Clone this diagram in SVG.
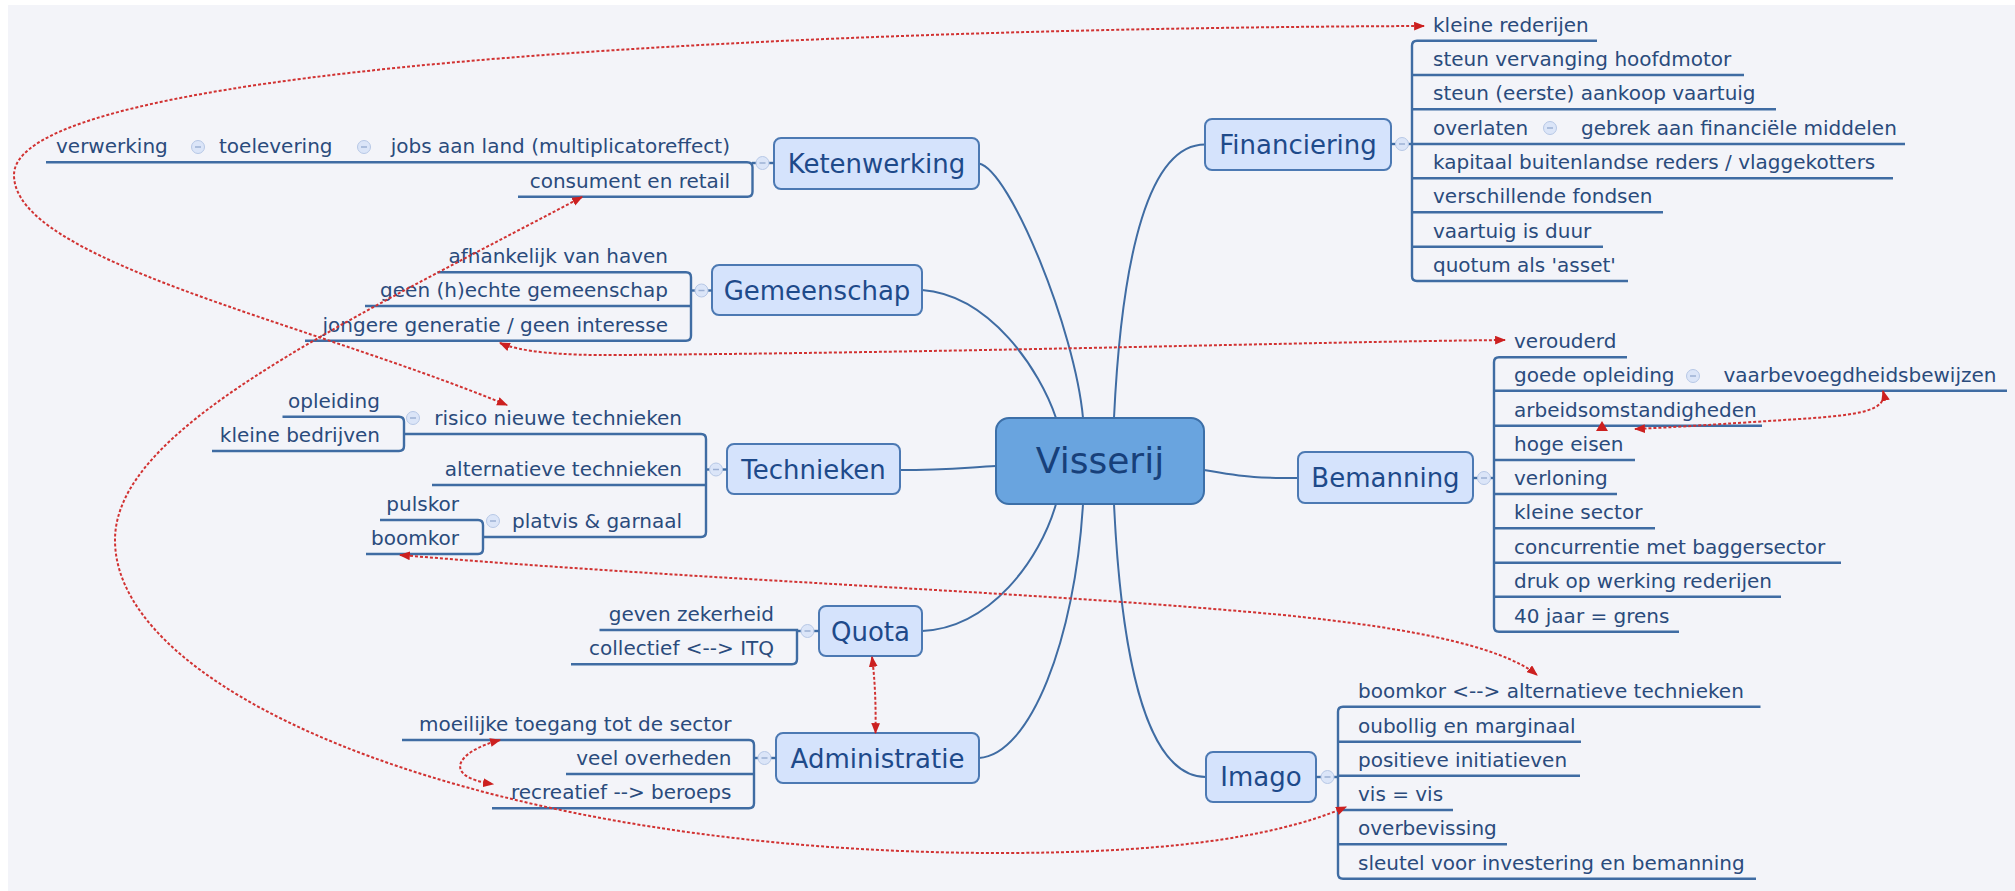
<svg xmlns="http://www.w3.org/2000/svg" width="2015" height="891" viewBox="0 0 2015 891">
<defs>
<style>
.bg{fill:#f3f4f9}
.t{font-family:"DejaVu Sans",Verdana,sans-serif;font-size:20px;fill:#2a4b7c}
.te{font-family:"DejaVu Sans",Verdana,sans-serif;font-size:20px;fill:#2a4b7c;text-anchor:end}
.nt{font-family:"DejaVu Sans",Verdana,sans-serif;font-size:26px;fill:#1e4a8a;text-anchor:middle}
.ct{font-family:"DejaVu Sans",Verdana,sans-serif;font-size:36px;fill:#17407a;text-anchor:middle}
.box{fill:#d5e3fc;stroke:#4c79b3;stroke-width:2}
.cbox{fill:#69a4df;stroke:#3c6fa8;stroke-width:2}
.ln{fill:none;stroke:#3f6ca3;stroke-width:2;stroke-linecap:round}
.br{fill:none;stroke:#3f6ca3;stroke-width:2.4}
.cc{fill:#dbe5f8;stroke:#b7c8e6;stroke-width:1}
.cm{stroke:#9cb0d4;stroke-width:1.5}
.rel{fill:none;stroke:#d13232;stroke-width:2;stroke-dasharray:3 2}
.ahp{fill:#cc2020}
</style>
<marker id="ah" viewBox="0 0 10 8" refX="9" refY="4" markerWidth="11" markerHeight="9" markerUnits="userSpaceOnUse" orient="auto-start-reverse">
<path d="M0,0 L10,4 L0,8 z" fill="#cc2020"/>
</marker>
<g id="collapse">
<circle class="cc" cx="0" cy="0" r="6.5"/>
<line class="cm" x1="-3" y1="0" x2="3" y2="0"/>
</g>
</defs>
<rect x="8" y="5" width="2007" height="886" class="bg"/>

<g id="branches">
<path class="ln" d="M1114,418 C1122,250 1150,144.5 1205,144.5"/>
<path class="ln" d="M1204,470 C1250,478 1260,478 1298,478"/>
<path class="ln" d="M1114,504 C1122,672 1150,777 1206,777"/>
<path class="ln" d="M1083,418 C1075,330 1010,170 979,163.5"/>
<path class="ln" d="M1056,418 C1040,370 990,295 922,290"/>
<path class="ln" d="M996,466 C960,468 940,470 900,470"/>
<path class="ln" d="M1056,504 C1040,560 990,628 922,631"/>
<path class="ln" d="M1083,504 C1075,640 1030,755 979,758"/>
</g>

<g id="center">
<rect class="cbox" x="996" y="418" width="208" height="86" rx="13"/>
<text class="ct" x="1100" y="473">Visserij</text>
</g>

<g id="financiering">
<rect class="box" x="1205" y="119" width="186" height="51" rx="7"/>
<text class="nt" x="1298" y="153.5">Financiering</text>
<path class="br" d="M1391,144 H1412"/>
<use href="#collapse" x="1402" y="144"/>
<path class="br" d="M1597,40.7 H1417 Q1412,40.7 1412,45.7 V276 Q1412,281 1417,281 H1628"/>
<path class="br" d="M1412,75 H1744 M1412,109.3 H1776 M1412,144 H1905 M1412,178.3 H1893 M1412,212.3 H1663 M1412,246.7 H1603"/>
<text class="t" x="1433" y="31.7">kleine rederijen</text>
<text class="t" x="1433" y="66">steun vervanging hoofdmotor</text>
<text class="t" x="1433" y="100.3">steun (eerste) aankoop vaartuig</text>
<text class="t" x="1433" y="135">overlaten</text>
<use href="#collapse" x="1550" y="128"/>
<text class="t" x="1581" y="135">gebrek aan financiële middelen</text>
<text class="t" x="1433" y="169.3">kapitaal buitenlandse reders / vlaggekotters</text>
<text class="t" x="1433" y="203.3">verschillende fondsen</text>
<text class="t" x="1433" y="237.7">vaartuig is duur</text>
<text class="t" x="1433" y="272">quotum als 'asset'</text>
</g>

<g id="bemanning">
<rect class="box" x="1298" y="452" width="175" height="51" rx="7"/>
<text class="nt" x="1385.5" y="486.5">Bemanning</text>
<path class="br" d="M1473,478 H1494"/>
<use href="#collapse" x="1484" y="478"/>
<path class="br" d="M1627,357.3 H1499 Q1494,357.3 1494,362.3 V626.7 Q1494,631.7 1499,631.7 H1679"/>
<path class="br" d="M1494,390.7 H2007 M1494,425.7 H1762 M1494,460 H1635 M1494,494 H1617 M1494,528.3 H1655 M1494,562.7 H1841 M1494,596.7 H1781"/>
<text class="t" x="1514" y="348.3">verouderd</text>
<text class="t" x="1514" y="381.7">goede opleiding</text>
<use href="#collapse" x="1693" y="376"/>
<text class="t" x="1723.5" y="381.7">vaarbevoegdheidsbewijzen</text>
<text class="t" x="1514" y="416.7">arbeidsomstandigheden</text>
<text class="t" x="1514" y="451">hoge eisen</text>
<text class="t" x="1514" y="485">verloning</text>
<text class="t" x="1514" y="519.3">kleine sector</text>
<text class="t" x="1514" y="553.7">concurrentie met baggersector</text>
<text class="t" x="1514" y="587.7">druk op werking rederijen</text>
<text class="t" x="1514" y="622.7">40 jaar = grens</text>
</g>

<g id="imago">
<rect class="box" x="1206" y="752" width="110" height="50" rx="7"/>
<text class="nt" x="1261" y="786">Imago</text>
<path class="br" d="M1316,777 H1338"/>
<use href="#collapse" x="1327.5" y="777"/>
<path class="br" d="M1760.5,706.7 H1343 Q1338,706.7 1338,711.7 V873.7 Q1338,878.7 1343,878.7 H1756"/>
<path class="br" d="M1338,741.7 H1581 M1338,775.7 H1580 M1338,810 H1453 M1338,844.3 H1507"/>
<text class="t" x="1358" y="697.7">boomkor &lt;--&gt; alternatieve technieken</text>
<text class="t" x="1358" y="732.7">oubollig en marginaal</text>
<text class="t" x="1358" y="766.7">positieve initiatieven</text>
<text class="t" x="1358" y="801">vis = vis</text>
<text class="t" x="1358" y="835.3">overbevissing</text>
<text class="t" x="1358" y="869.7">sleutel voor investering en bemanning</text>
</g>

<g id="ketenwerking">
<rect class="box" x="774" y="138" width="205" height="51" rx="7"/>
<text class="nt" x="876.5" y="172.5">Ketenwerking</text>
<path class="br" d="M774,163 H752"/>
<use href="#collapse" x="762.5" y="163"/>
<path class="br" d="M46,162.3 H747 Q752.5,162.3 752.5,167.3 V191.7 Q752.5,196.7 747.5,196.7 H518"/>
<text class="t" x="56" y="153">verwerking</text>
<use href="#collapse" x="198" y="147"/>
<text class="t" x="219" y="153">toelevering</text>
<use href="#collapse" x="364" y="147"/>
<text class="te" x="730" y="153">jobs aan land (multiplicatoreffect)</text>
<text class="te" x="730" y="187.7">consument en retail</text>
</g>

<g id="gemeenschap">
<rect class="box" x="712" y="265" width="210" height="50" rx="7"/>
<text class="nt" x="817" y="299.5">Gemeenschap</text>
<path class="br" d="M712,290.5 H691"/>
<use href="#collapse" x="701.5" y="290.5"/>
<path class="br" d="M437.5,272.3 H686 Q691,272.3 691,277.3 V335.7 Q691,340.7 686,340.7 H305"/>
<path class="br" d="M365,306 H691"/>
<text class="te" x="668" y="263.3">afhankelijk van haven</text>
<text class="te" x="668" y="297">geen (h)echte gemeenschap</text>
<text class="te" x="668" y="331.7">jongere generatie / geen interesse</text>
</g>

<g id="technieken">
<rect class="box" x="727" y="444" width="173" height="50" rx="7"/>
<text class="nt" x="813.5" y="478.5">Technieken</text>
<path class="br" d="M727,469.5 H706"/>
<use href="#collapse" x="716" y="469.5"/>
<path class="br" d="M404,434 H701 Q706,434 706,439 V532 Q706,537 701,537 H483"/>
<path class="br" d="M432,485 H706"/>
<path class="br" d="M282.5,416.7 H399 Q404,416.7 404,421.7 V446 Q404,451 399,451 H212"/>
<path class="br" d="M380,520 H478 Q483,520 483,525 V549 Q483,554 478,554 H366"/>
<use href="#collapse" x="413" y="418"/>
<text class="te" x="682" y="425">risico nieuwe technieken</text>
<text class="te" x="380" y="407.7">opleiding</text>
<text class="te" x="380" y="442">kleine bedrijven</text>
<text class="te" x="682" y="476">alternatieve technieken</text>
<use href="#collapse" x="493" y="521"/>
<text class="te" x="682" y="528.3">platvis &amp; garnaal</text>
<text class="te" x="459" y="511">pulskor</text>
<text class="te" x="459" y="545">boomkor</text>
</g>

<g id="quota">
<rect class="box" x="819" y="606" width="103" height="50" rx="7"/>
<text class="nt" x="870.5" y="640.5">Quota</text>
<path class="br" d="M819,631 H797"/>
<use href="#collapse" x="807.5" y="631"/>
<path class="br" d="M599.5,630 H797 V659.3 Q797,664.3 792,664.3 H571"/>
<text class="te" x="774" y="621">geven zekerheid</text>
<text class="te" x="774" y="655.3">collectief &lt;--&gt; ITQ</text>
</g>

<g id="administratie">
<rect class="box" x="776" y="733" width="203" height="50" rx="7"/>
<text class="nt" x="877.5" y="767.5">Administratie</text>
<path class="br" d="M776,758 H754"/>
<use href="#collapse" x="764.5" y="758"/>
<path class="br" d="M402,740 H749 Q754,740 754,745 V803.3 Q754,808.3 749,808.3 H492"/>
<path class="br" d="M566,774 H754"/>
<text class="te" x="731.5" y="731">moeilijke toegang tot de sector</text>
<text class="te" x="731.5" y="765">veel overheden</text>
<text class="te" x="731.5" y="799.3">recreatief --&gt; beroeps</text>
</g>

<g id="connectors">
<path class="rel" marker-start="url(#ah)" marker-end="url(#ah)" d="M1424,26 C850,28 14,60 14,175 C14,260 300,320 507,405"/>
<path class="rel" marker-start="url(#ah)" marker-end="url(#ah)" d="M582,197 C330,330 115,430 115,540 C115,700 500,853 1000,853 C1150,853 1270,840 1346,807"/>
<path class="rel" marker-start="url(#ah)" marker-end="url(#ah)" d="M500,343 Q530,356 620,355 C1000,352 1300,342 1505,340"/>
<path class="rel" marker-start="url(#ah)" marker-end="url(#ah)" d="M400,555 C700,580 1000,590 1250,612 C1400,625 1500,645 1537,675"/>
<path class="rel" marker-start="url(#ah)" marker-end="url(#ah)" d="M872,657 C875,680 876,705 875.5,733"/>
<path class="rel" marker-start="url(#ah)" marker-end="url(#ah)" d="M500,740 C455,752 442,777 493,784"/>
<path class="rel" marker-start="url(#ah)" marker-end="url(#ah)" d="M1883,391 C1888,410 1862,415 1800,419 C1720,424 1680,427 1635,429"/>
<path class="ahp" d="M1596,431 L1602,421 L1608,431 z"/>
</g>
</svg>
